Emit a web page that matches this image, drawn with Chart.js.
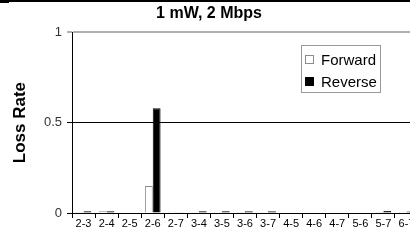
<!DOCTYPE html>
<html>
<head>
<meta charset="utf-8">
<script src="https://cdn.jsdelivr.net/npm/chart.js@4.4.0/dist/chart.umd.min.js"></script>
<style>
  html, body { margin: 0; padding: 0; background: #fff; overflow: hidden; width: 410px; height: 241px; }
  #wrap { position: relative; width: 424px; height: 241px; }
  #topline { position: absolute; left: 0; top: 0; width: 410px; height: 1.5px; background: #000; z-index: 2; }
  #topblock { position: absolute; left: 0; top: 0; width: 9px; height: 3px; background: #000; z-index: 2; }
</style>
</head>
<body>
<div id="wrap">
  <div id="topline"></div><div id="topblock"></div>
  <canvas id="c" width="424" height="241"></canvas>
</div>
<script>
const chartTitle = "1 mW, 2 Mbps";
const yAxisTitle = "Loss Rate";
const categories = ["2-3","2-4","2-5","2-6","2-7","3-4","3-5","3-6","3-7","4-5","4-6","4-7","5-6","5-7","6-7"];
const seriesNames = ["Forward", "Reverse"];
const forwardLoss = [0.005, 0.009, 0, 0.15, 0.007, 0.004, 0.007, 0.006, 0.004, 0, 0, 0, 0, 0.005, 0.007];
const reverseLoss = [0.009, 0.009, 0, 0.58, 0.004, 0.009, 0.009, 0.01, 0.01, 0, 0, 0, 0, 0.011, 0.008];
const yMin = 0, yMax = 1, yStep = 0.5;

const legendPlugin = {
  id: 'boxLegend',
  afterDraw(chart) {
    const ctx = chart.ctx;
    const x = 301, y = 45, w = 79, h = 47;
    ctx.save();
    ctx.fillStyle = '#fff';
    ctx.fillRect(x, y, w, h);
    ctx.strokeStyle = '#999';
    ctx.lineWidth = 1;
    ctx.strokeRect(x + 0.5, y + 0.5, w, h);
    ctx.font = '15px "Liberation Sans", Arial, sans-serif';
    ctx.textBaseline = 'alphabetic';
    const ds = chart.data.datasets;
    for (let i = 0; i < ds.length; i++) {
      const sy = y + 10 + i * 22;
      ctx.fillStyle = ds[i].backgroundColor;
      ctx.fillRect(x + 4, sy, 9, 9);
      ctx.strokeStyle = ds[i].borderColor;
      ctx.strokeRect(x + 4.5, sy + 0.5, 8, 8);
      ctx.fillStyle = '#000';
      ctx.fillText(ds[i].label, x + 20, sy + 10);
    }
    ctx.restore();
  }
};

new Chart(document.getElementById('c'), {
  type: 'bar',
  data: {
    labels: categories,
    datasets: [
      { label: seriesNames[0], data: forwardLoss, backgroundColor: '#ffffff', borderColor: '#8c8c8c', borderWidth: 1 },
      { label: seriesNames[1], data: reverseLoss, backgroundColor: '#000000', borderColor: '#000000', borderWidth: 1 }
    ]
  },
  options: {
    responsive: false,
    animation: false,
    devicePixelRatio: 1,
    layout: { padding: { left: 0, right: 6, top: 0, bottom: 0 } },
    datasets: { bar: { categoryPercentage: 0.68, barPercentage: 1.0 } },
    plugins: {
      legend: { display: false },
      tooltip: { enabled: false },
      title: {
        display: true,
        text: chartTitle,
        color: '#000',
        font: { family: '"Liberation Sans", Arial, sans-serif', size: 16, weight: 'bold' },
        padding: { top: 4, bottom: 9 }
      }
    },
    scales: {
      x: {
        grid: { display: true, drawOnChartArea: false, offset: true, color: '#000', tickLength: 5, tickColor: '#000' },
        border: { display: true, color: '#000', width: 1 },
        ticks: { color: '#000', font: { family: '"Liberation Sans", Arial, sans-serif', size: 11 }, padding: -1, maxRotation: 0, autoSkip: false },
        afterFit(scale) { scale.height = 28; }
      },
      y: {
        min: yMin, max: yMax,
        ticks: {
          stepSize: yStep,
          color: '#333',
          font: { family: '"Liberation Sans", Arial, sans-serif', size: 13 },
          padding: 5,
          callback: v => String(v)
        },
        grid: {
          tickLength: 5,
          color: ctx => (ctx.tick && ctx.tick.value === 1) ? '#b0b0b0' : '#000',
          lineWidth: ctx => (ctx.tick && ctx.tick.value === 1) ? 2 : 1
        },
        border: { display: true, color: '#000', width: 1 },
        title: {
          display: true,
          text: yAxisTitle,
          color: '#000',
          font: { family: '"Liberation Sans", Arial, sans-serif', size: 17, weight: 'bold' },
          padding: { top: 10, bottom: 4 }
        },
        afterFit(scale) { scale.width = 72; }
      }
    }
  },
  plugins: [legendPlugin]
});
</script>
</body>
</html>
